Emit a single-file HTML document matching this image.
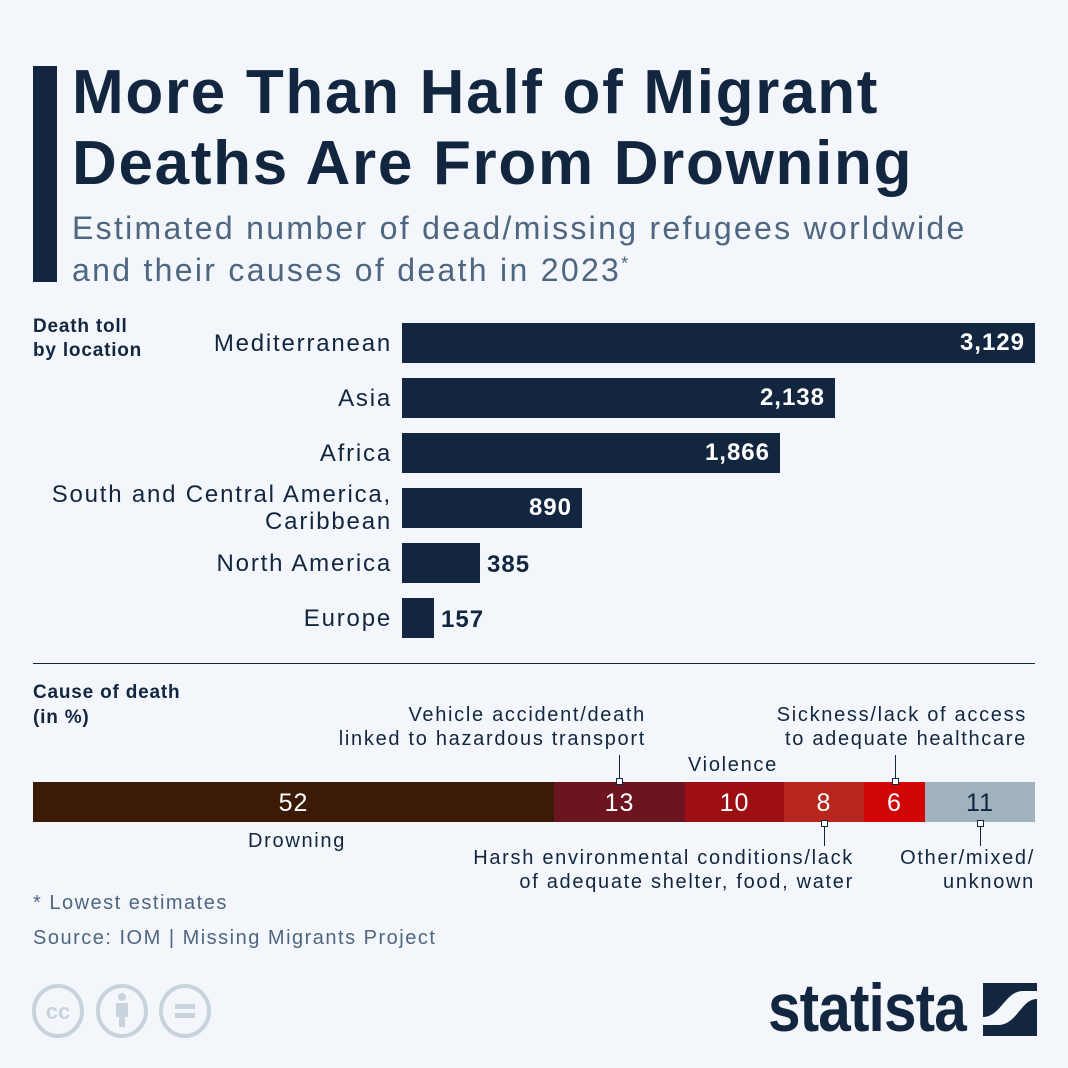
<!DOCTYPE html>
<html><head><meta charset="utf-8"><style>
body{margin:0;width:1068px;height:1068px;background:#f3f6fa;position:relative;overflow:hidden;font-family:"Liberation Sans",sans-serif;color:#12263f}
.a{position:absolute;white-space:nowrap}
.t{left:72px;font-size:62px;font-weight:bold;line-height:1;letter-spacing:1.7px}
.s{left:72px;font-size:32px;color:#4f6680;line-height:1;letter-spacing:2.3px}
.lab{right:676px;font-size:24px;text-align:right;line-height:27px;letter-spacing:1.8px}
.bar{position:absolute;left:402px;height:40px;background:#12263f}
.v{position:absolute;font-size:24px;font-weight:bold;line-height:40px;letter-spacing:1px}
.in{color:#fff;right:10px;top:0}
.seg{position:absolute;top:782px;height:40px;color:#fff;font-size:25px;text-align:center;line-height:42px;letter-spacing:1px}
.c{font-size:20px;line-height:24px;color:#12263f;letter-spacing:1.7px}
.tick{position:absolute;width:1px;background:#12263f}
.sq{position:absolute;width:5px;height:5px;border:1px solid #12263f;background:#fff}
</style></head><body>
<div class="a" style="left:33px;top:66px;width:24px;height:216px;background:#12263f"></div>
<div class="a t" style="top:62px">More Than Half of Migrant</div>
<div class="a t" style="top:133px">Deaths Are From Drowning</div>
<div class="a s" style="top:212px">Estimated number of dead/missing refugees worldwide</div>
<div class="a s" style="top:254px">and their causes of death in 2023<sup style="font-size:18px">*</sup></div>

<div class="a" style="left:33px;top:315px;font-size:19px;font-weight:bold;line-height:24px;letter-spacing:0.8px">Death toll<br>by location</div>

<div class="a lab" style="top:330px">Mediterranean</div>
<div class="bar" style="top:323px;width:633px"><span class="v in">3,129</span></div>
<div class="a lab" style="top:385px">Asia</div>
<div class="bar" style="top:378px;width:433px"><span class="v in">2,138</span></div>
<div class="a lab" style="top:440px">Africa</div>
<div class="bar" style="top:433px;width:378px"><span class="v in">1,866</span></div>
<div class="a lab" style="top:481px">South and Central America,<br>Caribbean</div>
<div class="bar" style="top:488px;width:180px"><span class="v in">890</span></div>
<div class="a lab" style="top:550px">North America</div>
<div class="bar" style="top:543px;width:78px"><span class="v" style="left:85px;top:2px">385</span></div>
<div class="a lab" style="top:605px">Europe</div>
<div class="bar" style="top:598px;width:32px"><span class="v" style="left:39px;top:2px">157</span></div>

<div class="a" style="left:33px;top:663px;width:1002px;height:1px;background:#12263f"></div>
<div class="a" style="left:33px;top:680px;font-size:19px;font-weight:bold;line-height:25px;letter-spacing:0.8px">Cause of death<br>(in %)</div>

<div class="seg" style="left:33px;width:521px;background:#3b1a08">52</div>
<div class="seg" style="left:554px;width:131px;background:#6c1420">13</div>
<div class="seg" style="left:685px;width:99px;background:#9c0e12">10</div>
<div class="seg" style="left:784px;width:80px;background:#b8261e">8</div>
<div class="seg" style="left:864px;width:61px;background:#d20606">6</div>
<div class="seg" style="left:925px;width:110px;background:#a0b2bd;color:#12263f">11</div>

<div class="a c" style="right:422px;top:703px;text-align:right">Vehicle accident/death<br>linked to hazardous transport</div>
<div class="tick" style="left:619px;top:755px;height:25px"></div><div class="sq" style="left:616px;top:778px"></div>
<div class="a c" style="left:688px;top:753px">Violence</div>
<div class="a c" style="right:41px;top:703px;text-align:right">Sickness/lack of access<br>to adequate healthcare</div>
<div class="tick" style="left:895px;top:755px;height:25px"></div><div class="sq" style="left:892px;top:778px"></div>
<div class="a c" style="left:248px;top:829px">Drowning</div>
<div class="tick" style="left:824px;top:824px;height:22px"></div><div class="sq" style="left:821px;top:820px"></div>
<div class="a c" style="right:214px;top:846px;text-align:right">Harsh environmental conditions/lack<br>of adequate shelter, food, water</div>
<div class="tick" style="left:980px;top:824px;height:22px"></div><div class="sq" style="left:977px;top:820px"></div>
<div class="a c" style="right:33px;top:846px;text-align:right">Other/mixed/<br>unknown</div>

<div class="a" style="left:33px;top:892px;font-size:20px;color:#4f6680;letter-spacing:1.5px">* Lowest estimates</div>
<div class="a" style="left:33px;top:927px;font-size:20px;color:#4f6680;letter-spacing:1.5px">Source: IOM | Missing Migrants Project</div>

<svg class="a" style="left:30px;top:982px" width="190" height="58">
<g fill="none" stroke="#c9d3dc" stroke-width="4">
<ellipse cx="28" cy="29" rx="24" ry="25"/><ellipse cx="92" cy="29" rx="24" ry="25"/><ellipse cx="155" cy="29" rx="24" ry="25"/></g>
<text x="28" y="37" text-anchor="middle" font-size="22" font-weight="bold" fill="#c9d3dc" font-family="Liberation Sans">cc</text>
<circle cx="92" cy="15" r="4" fill="#c9d3dc"/><rect x="86" y="21" width="12" height="14" fill="#c9d3dc"/><rect x="89" y="33" width="6" height="12" fill="#c9d3dc"/>
<rect x="145" y="22" width="20" height="5" fill="#c9d3dc"/><rect x="145" y="31" width="20" height="5" fill="#c9d3dc"/>
</svg>
<div class="a" style="left:768px;top:974px;font-size:68px;font-weight:bold;letter-spacing:-1px;transform:scaleX(0.86);transform-origin:left top;line-height:68px">statista</div>
<svg class="a" style="left:983px;top:983px" width="54" height="53"><rect width="54" height="53" fill="#12263f"/><path d="M0 34 C18 34 22 8 40 8 L54 8 L54 16 C38 16 34 42 15 42 L0 42Z" fill="#f3f6fa"/></svg>
</body></html>
